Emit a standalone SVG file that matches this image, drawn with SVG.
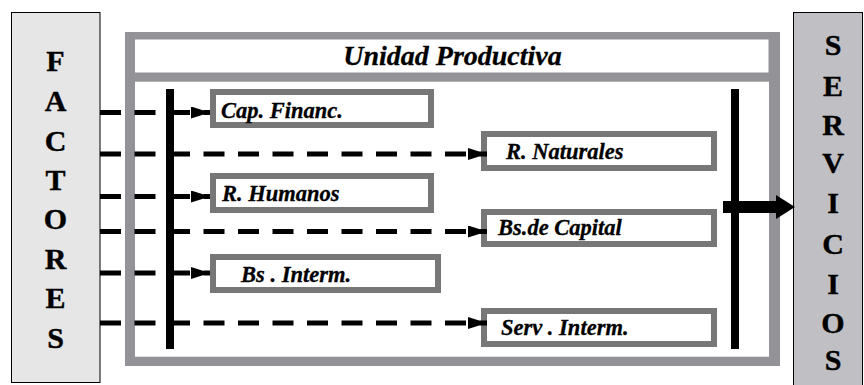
<svg xmlns="http://www.w3.org/2000/svg" width="864" height="385" viewBox="0 0 864 385">
<style>
.side{stroke:#000;stroke-width:1}
.big{font-family:'Liberation Serif','Times New Roman',serif;font-weight:bold;font-size:30px;fill:#000;stroke:#000;stroke-width:0.4;text-anchor:middle}
.lbl{font-family:'Liberation Serif','Times New Roman',serif;font-weight:bold;font-style:italic;font-size:22.5px;fill:#000;stroke:#000;stroke-width:0.3}
.ttl{font-size:28px;text-anchor:middle}
.box{fill:#fff;stroke:#777;stroke-width:6}
.dash{stroke:#000;stroke-width:5;stroke-dasharray:21 13.5;fill:none}
.bar{fill:#000}
</style>
<defs>
<marker id="ah" markerUnits="userSpaceOnUse" markerWidth="19" markerHeight="12" refX="19" refY="6" orient="auto">
<path d="M0,0 L19,6 L0,12 Z" fill="#000"/>
</marker>
</defs>
<rect width="864" height="385" fill="#fff"/>
<g id="factores">
<rect class="side" x="11.5" y="12.5" width="88.5" height="370" fill="#e6e6e6"/>
<text class="big" x="55.5" y="71">F</text>
<text class="big" x="55.5" y="111">A</text>
<text class="big" x="55.5" y="151">C</text>
<text class="big" x="55.5" y="190">T</text>
<text class="big" x="55.5" y="229">O</text>
<text class="big" x="55.5" y="269">R</text>
<text class="big" x="55.5" y="308">E</text>
<text class="big" x="55.5" y="348">S</text>
</g>
<g id="servicios">
<rect class="side" x="793.5" y="12.5" width="69" height="380" fill="#c0c0c4"/>
<text class="big" x="833" y="55">S</text>
<text class="big" x="833" y="96">E</text>
<text class="big" x="833" y="135">R</text>
<text class="big" x="833" y="173">V</text>
<text class="big" x="833" y="213">I</text>
<text class="big" x="833" y="254">C</text>
<text class="big" x="833" y="294">I</text>
<text class="big" x="833" y="333">O</text>
<text class="big" x="833" y="370">S</text>
</g>
<g id="unidad-productiva">
<rect x="125" y="32" width="655" height="334" fill="#939397"/>
<rect x="135" y="39.5" width="633.5" height="33" fill="#fff"/>
<rect x="135" y="81.7" width="634" height="275" fill="#fff"/>
<text class="lbl ttl" x="452.5" y="65">Unidad Productiva</text>
</g>
<g id="cap-financ">
<rect class="box" x="213" y="92" width="218" height="33"/>
<text class="lbl" x="221" y="118">Cap. Financ.</text>
</g>
<g id="r-naturales">
<rect class="box" x="484" y="134" width="230" height="34"/>
<text class="lbl" x="506" y="159">R. Naturales</text>
</g>
<g id="r-humanos">
<rect class="box" x="213" y="176" width="218" height="34"/>
<text class="lbl" x="222" y="201">R. Humanos</text>
</g>
<g id="bs-capital">
<rect class="box" x="484" y="212" width="230" height="32"/>
<text class="lbl" x="498" y="235">Bs.de Capital</text>
</g>
<g id="bs-interm">
<rect class="box" x="213" y="257" width="225" height="33"/>
<text class="lbl" x="241" y="281.5">Bs . Interm.</text>
</g>
<g id="serv-interm">
<rect class="box" x="484" y="311" width="230" height="33"/>
<text class="lbl" x="501" y="335">Serv . Interm.</text>
</g>
<g id="connectors">
<line class="dash" x1="100" y1="112.5" x2="210" y2="112.5" marker-end="url(#ah)"/>
<line class="dash" x1="100" y1="154" x2="487" y2="154" marker-end="url(#ah)"/>
<line class="dash" x1="100" y1="196.5" x2="210" y2="196.5" marker-end="url(#ah)"/>
<line class="dash" x1="100" y1="231.5" x2="487" y2="231.5" marker-end="url(#ah)"/>
<line class="dash" x1="100" y1="273" x2="210" y2="273" marker-end="url(#ah)"/>
<line class="dash" x1="100" y1="323" x2="487" y2="323" marker-end="url(#ah)"/>
<rect class="bar" x="166" y="89" width="8" height="260"/>
<rect class="bar" x="731" y="89" width="8" height="260"/>
<rect class="bar" x="723" y="201" width="55" height="12"/>
<path class="bar" d="M776,195 L795,207 L776,219 Z"/>
</g>
</svg>
